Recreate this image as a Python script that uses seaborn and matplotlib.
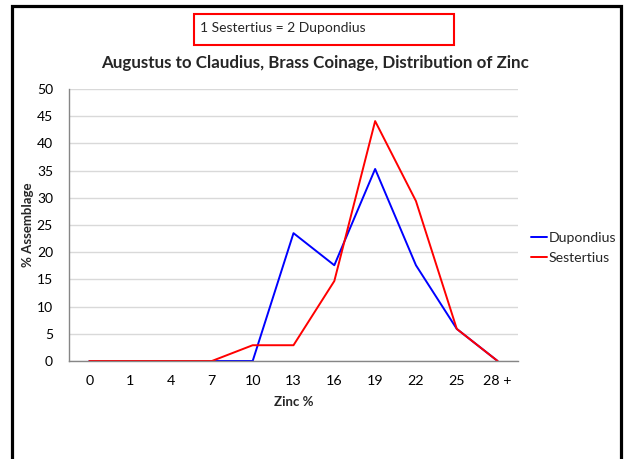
import matplotlib
matplotlib.use("Agg")
import matplotlib.pyplot as plt
from matplotlib.patches import Rectangle
from matplotlib.lines import Line2D
import seaborn as sns
import pandas as pd

# Zinc content bins and the share of each coin type falling in each bin
zinc_bins = ["0", "1", "4", "7", "10", "13", "16", "19", "22", "25", "28 +"]
dupondius = [0, 0, 0, 0, 0, 23.5, 17.6, 35.3, 17.6, 5.9, 0]
sestertius = [0, 0, 0, 0, 2.9, 2.9, 14.7, 44.1, 29.4, 5.9, 0]
series_names = ["Dupondius", "Sestertius"]
series_colors = ["#0000FF", "#FF0000"]

df = pd.concat([
    pd.DataFrame({"pos": range(len(zinc_bins)), "pct": vals, "coin": name})
    for name, vals in zip(series_names, [dupondius, sestertius])
])

sns.set_theme(style="white")
plt.rcParams["font.family"] = ["Lato", "DejaVu Sans"]

W, H = 624, 459
fig = plt.figure(figsize=(W / 100, H / 100), dpi=100)
ax = fig.add_axes([69 / W, 1 - 361 / H, (518 - 69) / W, (361 - 89) / H])

sns.lineplot(data=df, x="pos", y="pct", hue="coin",
             palette=dict(zip(series_names, series_colors)),
             linewidth=1.4, ax=ax, legend=True)

ax.set_xlim(-0.5, len(zinc_bins) - 0.5)
ax.set_ylim(0, 50)
ax.set_yticks(range(0, 51, 5))
ax.set_xticks(range(len(zinc_bins)))
ax.set_xticklabels(zinc_bins)
ax.set_xticks([i - 0.5 for i in range(len(zinc_bins) + 1)], minor=True)
ax.tick_params(axis="x", which="major", length=0, labelsize=10.3, pad=10, colors="black")
ax.tick_params(axis="x", which="minor", length=5, color="#868686", direction="out")
ax.tick_params(axis="y", which="major", length=4, color="#868686", direction="out",
               labelsize=10, pad=7.5, labelcolor="black")
ax.yaxis.grid(True, color="#D9D9D9", linewidth=1)
ax.xaxis.grid(False)
for side in ["top", "right"]:
    ax.spines[side].set_visible(False)
for side in ["left", "bottom"]:
    ax.spines[side].set_color("#868686")
    ax.spines[side].set_linewidth(1)

ax.set_xlabel("Zinc %", fontsize=9.5, fontweight="bold")
ax.set_ylabel("% Assemblage", fontsize=9.5, fontweight="bold")
ax.xaxis.set_label_coords(0.5, -0.127)
ax.yaxis.set_label_coords(-0.078, 0.5)

fig.text(315 / W, 1 - 63 / H,
         "Augustus to Claudius, Brass Coinage, Distribution of Zinc",
         fontsize=12.2, fontweight="bold", ha="center", va="center")

ax.legend(loc="center left", bbox_to_anchor=(1.029, 0.415), frameon=False,
          fontsize=10.2, handlelength=1.15, handletextpad=0.1, labelspacing=0.55,
          borderaxespad=0, borderpad=0)

# Note box above the title
fig.patches.append(Rectangle((194 / W, 1 - 45 / H), (454 - 194) / W, 31 / H,
                             transform=fig.transFigure, fill=False,
                             edgecolor="#FF0000", linewidth=1.5))
fig.text(200 / W, 1 - 28 / H, "1 Sestertius = 2 Dupondius",
         fontsize=10, va="center", ha="left")

# Outer chart frame (open at the bottom edge of the image)
frame_x = [11.5 / W, 11.5 / W, 620.5 / W, 620.5 / W]
frame_y = [-0.05, 1 - 5.5 / H, 1 - 5.5 / H, -0.05]
fig.add_artist(Line2D(frame_x, frame_y, transform=fig.transFigure,
                      color="black", linewidth=2.3, solid_joinstyle="miter"))

fig.savefig("out.png", dpi=100)
